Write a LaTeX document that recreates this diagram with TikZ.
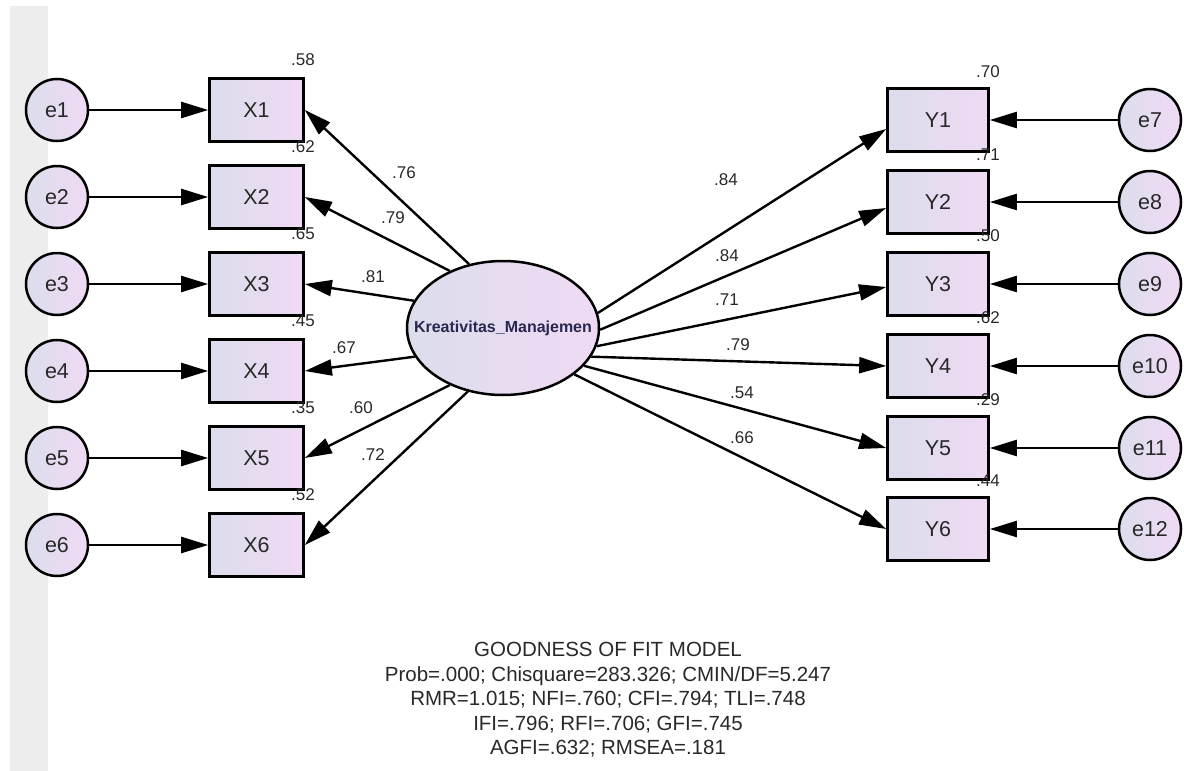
\documentclass[tikz,border=0pt]{standalone}
\usepackage{fontspec}
\setmainfont{Liberation Sans}
\usetikzlibrary{arrows.meta,shapes.geometric,calc}
\definecolor{gl}{RGB}{220,221,236}
\definecolor{gr}{RGB}{239,218,244}
\definecolor{txt}{RGB}{40,40,40}
\definecolor{lv}{RGB}{40,40,80}
\definecolor{strip}{RGB}{237,237,237}
\begin{document}
\begin{tikzpicture}[x=1pt,y=-1pt,
  obs/.style={draw=black,line width=2.7pt,rectangle,minimum width=94pt,minimum height=63pt,inner sep=0pt,left color=gl,right color=gr,font=\fontsize{21.5}{24}\selectfont,text=txt},
  err/.style={draw=black,line width=2.5pt,circle,minimum size=62pt,inner sep=0pt,left color=gl,right color=gr,font=\fontsize{21.5}{24}\selectfont,text=txt},
  lat/.style={draw=black,line width=2.5pt,ellipse,minimum width=192pt,minimum height=134pt,inner sep=0pt,left color=gl,right color=gr,font=\bfseries\fontsize{16}{18}\selectfont,text=lv},
  lbl/.style={inner sep=0pt,font=\fontsize{17}{19}\selectfont,text=txt},
  path/.style={draw=black,line width=2.4pt,-{Triangle[length=27pt,width=16pt]}},
  note/.style={inner sep=0pt,align=center,font=\fontsize{20.5}{24.5}\selectfont,text=txt}
]
\useasboundingbox (0,0) rectangle (1184,771);
\fill[strip] (10,6) rectangle (48,771);

% latent
\node[lat] (K) at (503,328) {\makebox[0pt]{Kreativitas\_Manajemen}};

% left indicators
\node[obs] (X1) at (256.5,110) {X1};
\node[obs] (X2) at (256.5,197) {X2};
\node[obs] (X3) at (256.5,284) {X3};
\node[obs] (X4) at (256.5,371) {X4};
\node[obs] (X5) at (256.5,458) {X5};
\node[obs] (X6) at (256.5,545) {X6};

\node[err] (e1) at (57,110) {e1};
\node[err] (e2) at (57,197) {e2};
\node[err] (e3) at (57,284) {e3};
\node[err] (e4) at (57,371) {e4};
\node[err] (e5) at (57,458) {e5};
\node[err] (e6) at (57,545) {e6};

% right indicators
\node[obs,minimum width=101pt] (Y1) at (938,120) {Y1};
\node[obs,minimum width=101pt] (Y2) at (938,202) {Y2};
\node[obs,minimum width=101pt] (Y3) at (938,284) {Y3};
\node[obs,minimum width=101pt] (Y4) at (938,366) {Y4};
\node[obs,minimum width=101pt] (Y5) at (938,448) {Y5};
\node[obs,minimum width=101pt] (Y6) at (938,529) {Y6};

\node[err] (e7) at (1150,120) {e7};
\node[err] (e8) at (1150,202) {e8};
\node[err] (e9) at (1150,284) {e9};
\node[err] (e10) at (1150,366) {e10};
\node[err] (e11) at (1150,448) {e11};
\node[err] (e12) at (1150,529) {e12};

% residual paths
\foreach \i in {1,...,6} {\draw[path] (e\i) -- (X\i);}
\draw[path] (e7) -- (Y1);
\draw[path] (e8) -- (Y2);
\draw[path] (e9) -- (Y3);
\draw[path] (e10) -- (Y4);
\draw[path] (e11) -- (Y5);
\draw[path] (e12) -- (Y6);

% loadings left
\draw[path] (K.118) -- (X1.east);
\draw[path] (K.133) -- (X2.east);
\draw[path] (K.163) -- (X3.east);
\draw[path] (K.198) -- (X4.east);
\draw[path] (K.227) -- (X5.east);
\draw[path] (K.241) -- (X6.east);

% loadings right
\draw[path] (K.9) -- ($(Y1.west)+(0,9)$);
\draw[path] (K.-1) -- ($(Y2.west)+(0,6)$);
\draw[path] (K.-11) -- ($(Y3.west)+(0,3)$);
\draw[path] (K.-18) -- (Y4.west);
\draw[path] (K.-25) -- (Y5.west);
\draw[path] (K.-33) -- (Y6.west);

% R-square labels
\node[lbl] (rx1) at (303,60) {.58};
\node[lbl] (rx2) at (303,147) {.62};
\node[lbl] (rx3) at (303,234) {.65};
\node[lbl] (rx4) at (303,321) {.45};
\node[lbl] (rx5) at (303,408) {.35};
\node[lbl] (rx6) at (303,495) {.52};
\node[lbl] (ry1) at (988,72) {.70};
\node[lbl] (ry2) at (988,155) {.71};
\node[lbl] (ry3) at (988,236) {.50};
\node[lbl] (ry4) at (988,318) {.62};
\node[lbl] (ry5) at (988,400) {.29};
\node[lbl] (ry6) at (988,481) {.44};

% loading labels
\node[lbl] (lx1) at (404,173) {.76};
\node[lbl] (lx2) at (393,218) {.79};
\node[lbl] (lx3) at (373,277) {.81};
\node[lbl] (lx4) at (344,348) {.67};
\node[lbl] (lx5) at (361,408) {.60};
\node[lbl] (lx6) at (373,455) {.72};
\node[lbl] (ly1) at (726,180) {.84};
\node[lbl] (ly2) at (727,256) {.84};
\node[lbl] (ly3) at (727,300) {.71};
\node[lbl] (ly4) at (738,345) {.79};
\node[lbl] (ly5) at (742,393) {.54};
\node[lbl] (ly6) at (742,438) {.66};

% fit summary
\node[note] (fit) at (608,700) {GOODNESS OF FIT MODEL\\Prob=.000; Chisquare=283.326; CMIN/DF=5.247\\RMR=1.015; NFI=.760; CFI=.794; TLI=.748\\IFI=.796; RFI=.706; GFI=.745\\AGFI=.632; RMSEA=.181};
\end{tikzpicture}
\end{document}
